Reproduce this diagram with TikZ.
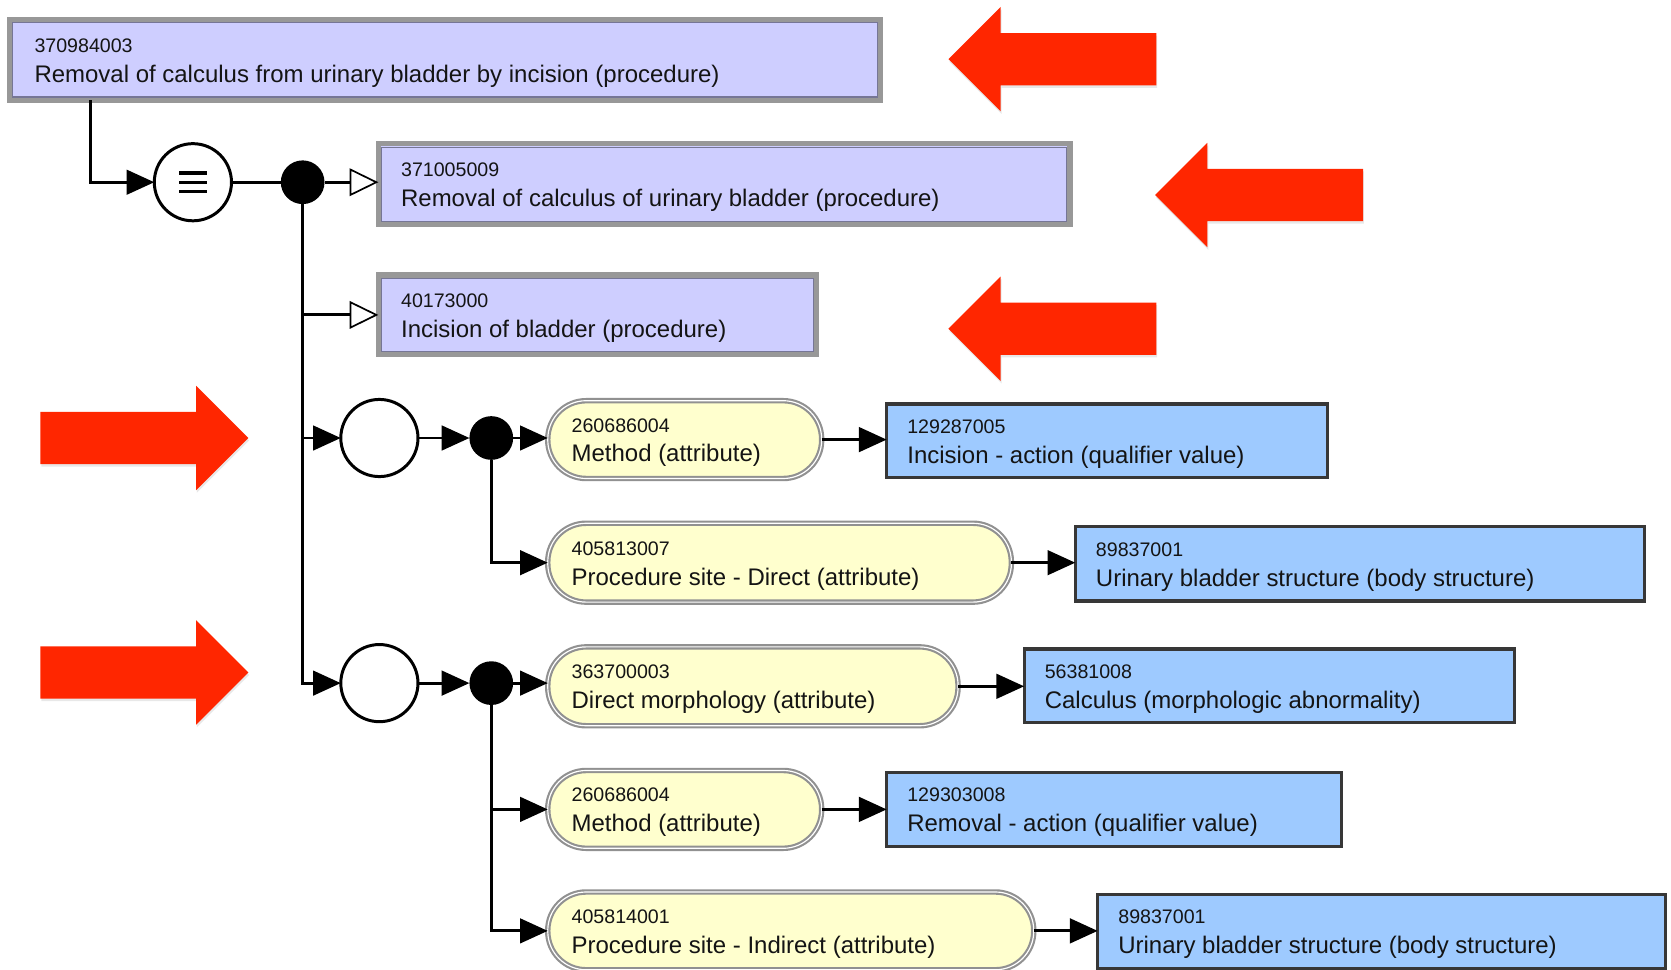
\documentclass[tikz,border=0pt]{standalone}
\usepackage{fontspec}
\setmainfont{Liberation Sans}
\usetikzlibrary{arrows.meta,shadows}

\definecolor{lavfill}{RGB}{206,206,255}
\definecolor{lavframe}{RGB}{152,152,152}
\definecolor{lavline}{RGB}{118,118,150}
\definecolor{pillfill}{RGB}{255,255,206}
\definecolor{pillframe}{RGB}{145,145,145}
\definecolor{valfill}{RGB}{158,202,255}
\definecolor{valframe}{RGB}{55,55,55}
\definecolor{pointerred}{RGB}{255,38,0}
\definecolor{inktext}{RGB}{20,20,20}

% #1 name, #2 style, #3..#6 corners (x1,y1,x2,y2), #7 concept id, #8 term, #9 text indent
\newcommand\concept[9]{%
  \node[#2, minimum width={(#5-#3-2)*0.5pt}, minimum height={(#6-#4-2)*0.5pt}]
    (#1) at ({(#3+#5)/2},{(#4+#6)/2}) {};
  \node[idtext]   (#1-id)   at ([shift={(#9-1,-7)}]#1.west) {#7};
  \node[termtext] (#1-term) at ([shift={(#9-1,21)}]#1.west) {#8};
}

\tikzset{
  conn/.style={draw=black, line width=1.4pt},
  tofill/.style={-{Triangle[length=13pt,width=11.5pt]}},
  toopen/.style={-{Triangle[open,length=13.5pt,width=13pt,line width=0.8pt,fill=white]}},
  procbox/.style={rectangle, draw=lavframe, line width=2.4pt, fill=lavfill,
    outer sep=0pt, inner sep=0pt,
    path picture={\draw[lavline, line width=0.5pt]
      ([shift={(3,3)}]path picture bounding box.north west) rectangle
      ([shift={(-3,-3)}]path picture bounding box.south east);}},
  attrpill/.style={rectangle, rounded corners=18pt, draw=pillframe, double=white,
    double distance=0.55pt, line width=1pt, fill=pillfill, outer sep=0pt, inner sep=0pt},
  valuebox/.style={rectangle, draw=valframe, line width=1.5pt, fill=valfill,
    outer sep=0pt, inner sep=0pt},
  idtext/.style={anchor=base west, inner sep=0pt, text=inktext,
    font=\fontsize{9.2}{10}\selectfont},
  termtext/.style={anchor=base west, inner sep=0pt, text=inktext,
    font=\fontsize{11.25}{13}\selectfont},
  eqv/.style={circle, draw=black, line width=1.4pt, fill=white, minimum size=36.2pt,
    inner sep=0pt, outer sep=0pt,
    path picture={\foreach \dy in {-8.7,0,8.7}
      \draw[line width=1.55pt]
        ([shift={(-13,\dy)}]path picture bounding box.center) --
        ([shift={(13,\dy)}]path picture bounding box.center);}},
  group/.style={circle, draw=black, line width=1.4pt, fill=white, minimum size=36.2pt,
    inner sep=0pt, outer sep=0pt},
  joint/.style={circle, fill=black, minimum size=20.5pt, inner sep=0pt, outer sep=0pt},
  pointerfill/.style={fill=pointerred,
    drop shadow={opacity=0.18, shadow xshift=0.4pt, shadow yshift=-1.2pt}},
  pics/pointer/.style={code={
    \fill[pointerfill] (0,0) -- (49,-49) -- (49,-24.5) -- (195,-24.5)
      -- (195,24.5) -- (49,24.5) -- (49,49) -- cycle;}},
}

\begin{document}
\begin{tikzpicture}[x=0.5pt, y=-0.5pt]
\useasboundingbox (0,0) rectangle (1568,910);
\clip (0,0) rectangle (1568,910);

% concept being defined and its parents
\concept{root}{procbox}{8}{17}{827}{95}{370984003}{Removal of calculus from urinary bladder by incision (procedure)}{24}
\concept{parentA}{procbox}{354}{134}{1005}{212}{371005009}{Removal of calculus of urinary bladder (procedure)}{22}
\concept{parentB}{procbox}{354}{257}{767}{334}{40173000}{Incision of bladder (procedure)}{22}

% definition status and conjunction
\node[eqv] (eq) at (181,171) {};
\node[joint] (j0) at (284,171) {};

% first relationship group
\node[group] (g1) at (356,411) {};
\node[joint] (j1) at (461,411) {};
\concept{a11}{attrpill}{513}{375}{772}{450}{260686004}{Method (attribute)}{23}
\concept{v11}{valuebox}{831}{378}{1247}{449}{129287005}{Incision - action (qualifier value)}{20}
\concept{a12}{attrpill}{513}{490}{950}{566}{405813007}{Procedure site - Direct (attribute)}{23}
\concept{v12}{valuebox}{1008}{493}{1544}{565}{89837001}{Urinary bladder structure (body structure)}{20}

% second relationship group
\node[group] (g2) at (356,641) {};
\node[joint] (j2) at (461,641) {};
\concept{a21}{attrpill}{513}{606}{900}{682}{363700003}{Direct morphology (attribute)}{23}
\concept{v21}{valuebox}{960}{608}{1422}{679}{56381008}{Calculus (morphologic abnormality)}{20}
\concept{a22}{attrpill}{513}{722}{772}{797}{260686004}{Method (attribute)}{23}
\concept{v22}{valuebox}{831}{724}{1260}{795}{129303008}{Removal - action (qualifier value)}{20}
\concept{a23}{attrpill}{513}{836}{971}{911}{405814001}{Procedure site - Indirect (attribute)}{23}
\concept{v23}{valuebox}{1029}{838}{1564}{910}{89837001}{Urinary bladder structure (body structure)}{20}

% connectors
\draw[conn, tofill] ([shift={(76,0)}]root.south west) |- (eq);
\draw[conn] (eq) -- (j0);
\draw[conn, toopen] (j0) -- (j0 -| parentA.west);
\draw[conn, toopen] (j0) |- (parentB.west);
\draw[conn, tofill] (j0) |- (g1);
\draw[conn, tofill] (j0) |- (g2);

\draw[conn, tofill] (g1) -- (j1);
\draw[conn, tofill] (j1) -- (j1 -| a11.west);
\draw[conn, tofill] (j1) |- (a12.west);
\draw[conn, tofill] (a11) -- (a11 -| v11.west);
\draw[conn, tofill] (a12) -- (a12 -| v12.west);

\draw[conn, tofill] (g2) -- (j2);
\draw[conn, tofill] (j2) -- (j2 -| a21.west);
\draw[conn, tofill] (j2) |- (a22.west);
\draw[conn, tofill] (j2) |- (a23.west);
\draw[conn, tofill] (a21) -- (a21 -| v21.west);
\draw[conn, tofill] (a22) -- (a22 -| v22.west);
\draw[conn, tofill] (a23) -- (a23 -| v23.west);

% red pointers
\pic at (890,55.5) {pointer};
\pic at (1084,183) {pointer};
\pic at (890,308.5) {pointer};
\pic[xscale=-1] at (233,411) {pointer};
\pic[xscale=-1] at (233,631) {pointer};
\end{tikzpicture}
\end{document}
